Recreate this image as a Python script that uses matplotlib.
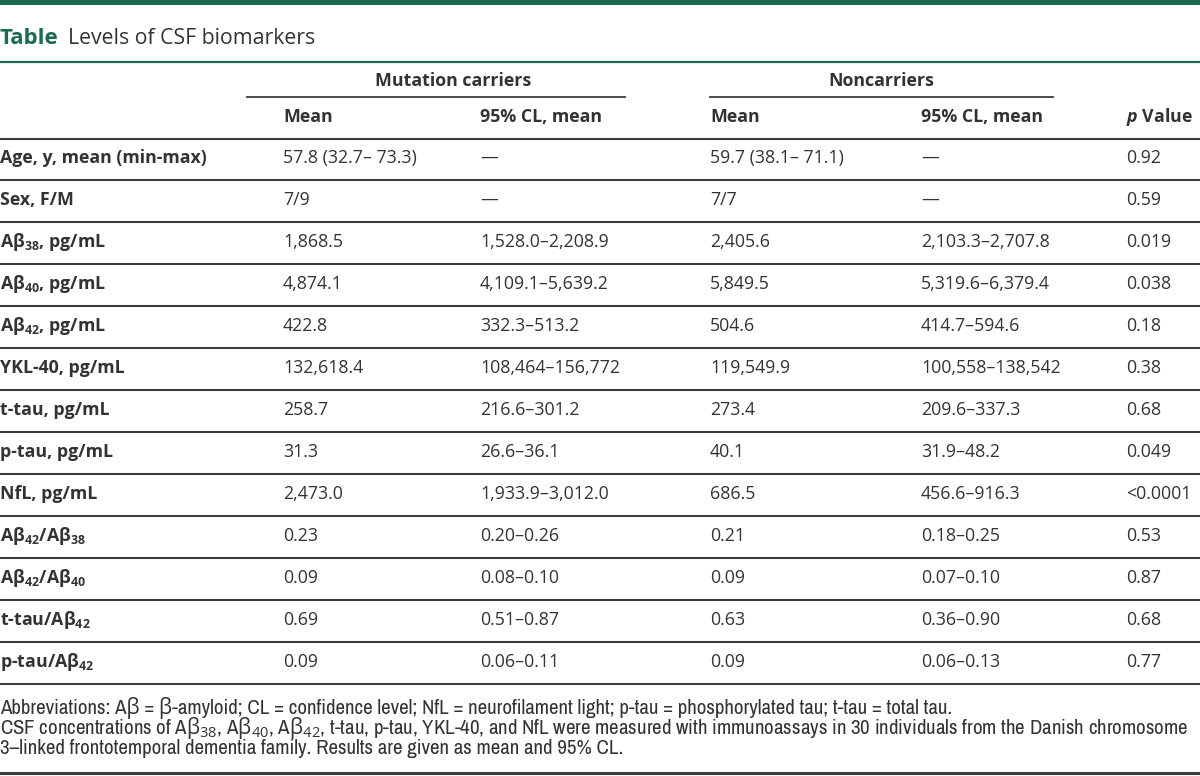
import matplotlib
matplotlib.use("Agg")
import matplotlib.pyplot as plt
from matplotlib import font_manager

plt.rcParams['font.family'] = ['Open Sans', 'DejaVu Sans']
plt.rcParams['mathtext.fontset'] = 'custom'
plt.rcParams['mathtext.rm'] = 'Open Sans'
plt.rcParams['mathtext.bf'] = 'Open Sans:bold'
plt.rcParams['mathtext.it'] = 'Open Sans:bold:italic'

# table data
title_bold = "Table"
title_rest = "Levels of CSF biomarkers"
groups = ["Mutation carriers", "Noncarriers"]
sub_headers = ["Mean", "95% CL, mean", "Mean", "95% CL, mean", "$\\mathit{p}$ Value"]
row_labels = [
    "Age, y, mean (min-max)",
    "Sex, F/M",
    "Aβ$_\\mathbf{38}$, pg/mL",
    "Aβ$_\\mathbf{40}$, pg/mL",
    "Aβ$_\\mathbf{42}$, pg/mL",
    "YKL-40, pg/mL",
    "t-tau, pg/mL",
    "p-tau, pg/mL",
    "NfL, pg/mL",
    "Aβ$_\\mathbf{42}$/Aβ$_\\mathbf{38}$",
    "Aβ$_\\mathbf{42}$/Aβ$_\\mathbf{40}$",
    "t-tau/Aβ$_\\mathbf{42}$",
    "p-tau/Aβ$_\\mathbf{42}$",
]
carrier_mean = ["57.8 (32.7– 73.3)", "7/9", "1,868.5", "4,874.1", "422.8", "132,618.4",
                "258.7", "31.3", "2,473.0", "0.23", "0.09", "0.69", "0.09"]
carrier_ci = ["—", "—", "1,528.0–2,208.9", "4,109.1–5,639.2", "332.3–513.2", "108,464–156,772",
              "216.6–301.2", "26.6–36.1", "1,933.9–3,012.0", "0.20–0.26", "0.08–0.10",
              "0.51–0.87", "0.06–0.11"]
non_mean = ["59.7 (38.1– 71.1)", "7/7", "2,405.6", "5,849.5", "504.6", "119,549.9",
            "273.4", "40.1", "686.5", "0.21", "0.09", "0.63", "0.09"]
non_ci = ["—", "—", "2,103.3–2,707.8", "5,319.6–6,379.4", "414.7–594.6", "100,558–138,542",
          "209.6–337.3", "31.9–48.2", "456.6–916.3", "0.18–0.25", "0.07–0.10",
          "0.36–0.90", "0.06–0.13"]
p_values = ["0.92", "0.59", "0.019", "0.038", "0.18", "0.38", "0.68", "0.049", "<0.0001",
            "0.53", "0.87", "0.68", "0.77"]
footnotes = [
    "Abbreviations: Aβ = β-amyloid; CL = confidence level; NfL = neurofilament light; p-tau = phosphorylated tau; t-tau = total tau.",
    "CSF concentrations of A$\\mathrm{β}_\\mathrm{38}$, A$\\mathrm{β}_\\mathrm{40}$, A$\\mathrm{β}_\\mathrm{42}$, t-tau, p-tau, YKL-40, and NfL were measured with immunoassays in 30 individuals from the Danish chromosome",
    "3–linked frontotemporal dementia family. Results are given as mean and 95% CL.",
]

GREEN = "#1b6b4c"
TXT = "#333333"
LINE = "#3c3c3c"

# a narrow face for the footnote if one is installed
narrow = None
for f in font_manager.fontManager.ttflist:
    if any(k in f.name for k in ("Condensed", "Narrow")) and f.weight in (400, "normal", "regular"):
        narrow = f.name
        break
foot_family = [narrow, "Open Sans"] if narrow else ["Open Sans"]

fig = plt.figure(figsize=(12, 7.76), dpi=100)
ax = fig.add_axes([0, 0, 1, 1])
ax.set_xlim(0, 1200)
ax.set_ylim(776, 0)
ax.axis("off")
inv = ax.transData.inverted()

# top bar and title
ax.fill_between([0, 1200], 0, 5, color=GREEN, lw=0)
t = ax.text(0, 38, title_bold, color=GREEN, fontsize=16, fontweight="bold", va="center")
fig.canvas.draw()
bb = t.get_window_extent()
x_rest = inv.transform((bb.x1, 0))[0] + 9
ax.text(x_rest, 38, title_rest, color=TXT, fontsize=15.3, va="center")
ax.plot([0, 1200], [62, 62], color=GREEN, lw=1.6)

# column headers
col_x = [283, 480, 710, 921, 1126]
fs = 12.8
ax.text(453, 81, groups[0], color=TXT, fontsize=fs, fontweight="bold", ha="center", va="center")
ax.text(881, 81, groups[1], color=TXT, fontsize=fs, fontweight="bold", ha="center", va="center")
ax.plot([247, 625], [97, 97], color=LINE, lw=1.3)
ax.plot([710, 1053], [97, 97], color=LINE, lw=1.3)
for x, h in zip(col_x, sub_headers):
    ax.text(x, 117, h, color=TXT, fontsize=fs, fontweight="bold", va="center")
ax.plot([0, 1200], [139, 139], color=LINE, lw=1.5)

# body rows
row_h = 42
y0 = 158
for i, lab in enumerate(row_labels):
    y = y0 + i * row_h
    ax.text(0, y, lab, color=TXT, fontsize=fs, fontweight="bold", va="center")
    for x, col in zip(col_x, [carrier_mean, carrier_ci, non_mean, non_ci, p_values]):
        ax.text(x, y, col[i], color=TXT, fontsize=fs, va="center")
    ax.plot([0, 1200], [y + 22, y + 22], color=LINE, lw=1.5)

# footnotes, sized so the long line fills the width
foot = [ax.text(0, 708 + j * 20, line, color=TXT, fontsize=10,
                family=foot_family, va="center") for j, line in enumerate(footnotes)]
fig.canvas.draw()
w = foot[1].get_window_extent().width
scale = 1190 / w
for ft in foot:
    ft.set_fontsize(10 * scale)
ax.plot([0, 1200], [773, 773], color=LINE, lw=2.2)

fig.savefig("out.png", dpi=100)
